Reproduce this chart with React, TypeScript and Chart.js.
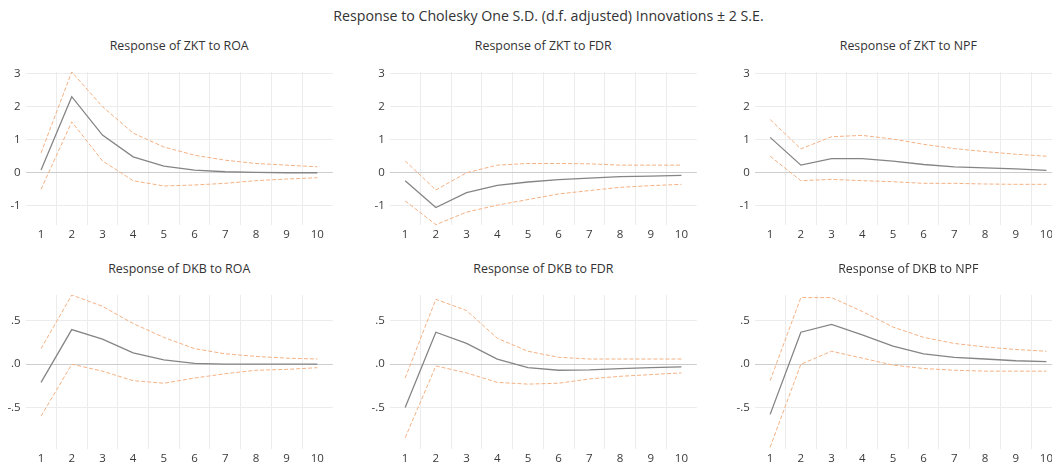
import React, { useEffect, useRef } from 'react';
import { Chart, registerables } from 'chart.js';

Chart.register(...registerables);

const periods = ['1', '2', '3', '4', '5', '6', '7', '8', '9', '10'];

const zktRoaMid = [0.08, 2.3, 1.14, 0.48, 0.2, 0.08, 0.03, 0.01, 0.0, 0.0];
const zktRoaUp = [0.6, 3.05, 2.0, 1.2, 0.78, 0.53, 0.38, 0.28, 0.23, 0.18];
const zktRoaLo = [-0.5, 1.54, 0.36, -0.24, -0.4, -0.37, -0.32, -0.24, -0.19, -0.15];

const zktFdrMid = [-0.24, -1.05, -0.6, -0.38, -0.28, -0.21, -0.16, -0.12, -0.1, -0.08];
const zktFdrUp = [0.36, -0.52, 0.0, 0.23, 0.28, 0.28, 0.27, 0.23, 0.23, 0.23];
const zktFdrLo = [-0.85, -1.57, -1.19, -0.98, -0.81, -0.64, -0.54, -0.44, -0.39, -0.35];

const zktNpfMid = [1.07, 0.23, 0.43, 0.43, 0.35, 0.25, 0.18, 0.15, 0.12, 0.07];
const zktNpfUp = [1.61, 0.72, 1.09, 1.13, 1.02, 0.86, 0.73, 0.64, 0.56, 0.5];
const zktNpfLo = [0.5, -0.24, -0.2, -0.24, -0.27, -0.32, -0.32, -0.34, -0.35, -0.35];

const dkbRoaMid = [-0.21, 0.4, 0.29, 0.13, 0.05, 0.01, 0.0, 0.0, 0.0, 0.0];
const dkbRoaUp = [0.18, 0.8, 0.67, 0.47, 0.31, 0.18, 0.12, 0.09, 0.07, 0.06];
const dkbRoaLo = [-0.6, 0.0, -0.08, -0.19, -0.22, -0.16, -0.11, -0.07, -0.06, -0.04];

const dkbFdrMid = [-0.5, 0.37, 0.24, 0.06, -0.04, -0.07, -0.065, -0.05, -0.04, -0.03];
const dkbFdrUp = [-0.16, 0.75, 0.62, 0.3, 0.15, 0.08, 0.06, 0.06, 0.06, 0.06];
const dkbFdrLo = [-0.85, -0.02, -0.1, -0.21, -0.23, -0.22, -0.17, -0.14, -0.12, -0.1];

const dkbNpfMid = [-0.58, 0.37, 0.46, 0.34, 0.21, 0.12, 0.08, 0.06, 0.04, 0.03];
const dkbNpfUp = [-0.19, 0.77, 0.77, 0.61, 0.43, 0.31, 0.24, 0.2, 0.17, 0.15];
const dkbNpfLo = [-0.96, 0.0, 0.15, 0.07, -0.01, -0.05, -0.07, -0.08, -0.08, -0.08];

const topTickValues = [-1, 0, 1, 2, 3];
const topTickLabels = ['-1', '0', '1', '2', '3'];
const bottomTickValues = [-0.5, 0, 0.5];
const bottomTickLabels = ['-.5', '.0', '.5'];

const mainTitle = 'Response to Cholesky One S.D. (d.f. adjusted) Innovations \u00b1 2 S.E.';
const panelTitles = [
  'Response of ZKT to ROA',
  'Response of ZKT to FDR',
  'Response of ZKT to NPF',
  'Response of DKB to ROA',
  'Response of DKB to FDR',
  'Response of DKB to NPF',
];

const FONT = "'Open Sans', 'DejaVu Sans', sans-serif";
const TEXT = '#3a3a3a';
const MID_COLOR = '#858585';
const BAND_COLOR = '#f4b183';

type Col = { left: number; width: number; areaLeft: number; areaRight: number };
type Row = { top: number; height: number; padTop: number; axisH: number; titleY: number; min: number; max: number; tv: number[]; tl: string[] };

const cols: Col[] = [
  { left: 0, width: 340, areaLeft: 25.7, areaRight: 332.7 },
  { left: 350, width: 355, areaLeft: 389.8, areaRight: 696.8 },
  { left: 700, width: 370, areaLeft: 754.8, areaRight: 1061.8 },
];

const rows: Row[] = [
  { top: 60, height: 185, padTop: 11.7, axisH: 20, titleY: 46.3, min: -1.58, max: 3.05, tv: topTickValues, tl: topTickLabels },
  { top: 283, height: 184, padTop: 12, axisH: 18, titleY: 269.3, min: -0.98, max: 0.8, tv: bottomTickValues, tl: bottomTickLabels },
];

const series = [
  [zktRoaMid, zktRoaUp, zktRoaLo],
  [zktFdrMid, zktFdrUp, zktFdrLo],
  [zktNpfMid, zktNpfUp, zktNpfLo],
  [dkbRoaMid, dkbRoaUp, dkbRoaLo],
  [dkbFdrMid, dkbFdrUp, dkbFdrLo],
  [dkbNpfMid, dkbNpfUp, dkbNpfLo],
];

function Panel({ index }: { index: number }) {
  const ref = useRef<HTMLCanvasElement | null>(null);
  const col = cols[index % 3];
  const row = rows[Math.floor(index / 3)];
  const [mid, up, lo] = series[index];

  useEffect(() => {
    if (!ref.current) return;
    const yW = col.areaLeft - col.left;
    const padR = col.left + col.width - col.areaRight;
    const chart = new Chart(ref.current, {
      type: 'line',
      data: {
        labels: periods,
        datasets: [
          { data: up, borderColor: BAND_COLOR, borderWidth: 1, borderDash: [4, 2], pointRadius: 0, fill: false, tension: 0 },
          { data: lo, borderColor: BAND_COLOR, borderWidth: 1, borderDash: [4, 2], pointRadius: 0, fill: false, tension: 0 },
          { data: mid, borderColor: MID_COLOR, borderWidth: 1.3, pointRadius: 0, fill: false, tension: 0 },
        ],
      },
      options: {
        animation: false,
        responsive: false,
        maintainAspectRatio: false,
        events: [],
        layout: { padding: { top: row.padTop, right: padR, left: 0, bottom: 0 } },
        plugins: { legend: { display: false }, title: { display: false }, tooltip: { enabled: false } },
        scales: {
          x: {
            type: 'category',
            offset: true,
            border: { display: false },
            grid: {
              offset: true,
              drawTicks: false,
              color: (ctx: any) => (ctx.type !== 'tick' || ctx.index === 0 ? 'rgba(0,0,0,0)' : '#ececec'),
              lineWidth: 1,
            },
            ticks: { color: TEXT, font: { family: FONT, size: 11.5 }, padding: 3, maxRotation: 0, autoSkip: false },
            afterFit: (s: any) => { s.height = row.axisH; },
          },
          y: {
            type: 'linear',
            min: row.min,
            max: row.max,
            border: { display: false },
            grid: {
              drawTicks: false,
              color: (ctx: any) => (ctx.tick && ctx.tick.value === 0 ? '#cdcdcd' : '#ececec'),
              lineWidth: 1,
            },
            afterBuildTicks: (s: any) => { s.ticks = row.tv.map((v) => ({ value: v })); },
            ticks: {
              color: TEXT,
              font: { family: FONT, size: 11.5 },
              padding: 5,
              callback: (v: any) => {
                const i = row.tv.indexOf(Number(v));
                return i >= 0 ? row.tl[i] : '';
              },
            },
            afterFit: (s: any) => { s.width = yW; },
          },
        },
      },
    });
    return () => chart.destroy();
  }, [index]);

  const center = (col.areaLeft + col.areaRight) / 2;
  return (
    <>
      <div
        style={{
          position: 'absolute',
          left: center - 150,
          width: 300,
          top: row.titleY - 9,
          height: 18,
          lineHeight: '18px',
          textAlign: 'center',
          fontFamily: FONT,
          fontSize: 12.4,
          color: '#333',
          whiteSpace: 'nowrap',
        }}
      >
        {panelTitles[index]}
      </div>
      <canvas
        ref={ref}
        width={col.width}
        height={row.height}
        style={{ position: 'absolute', left: col.left, top: row.top, width: col.width, height: row.height }}
      />
    </>
  );
}

export default function App() {
  return (
    <div style={{ position: 'absolute', left: 0, top: 0, width: 1052, height: 467, overflow: 'hidden', background: '#fff' }}>
      <div
        style={{
          position: 'absolute',
          left: 548.5 - 300,
          width: 600,
          top: 6.7,
          height: 18,
          lineHeight: '18px',
          textAlign: 'center',
          fontFamily: FONT,
          fontSize: 14.2,
          color: '#333',
          whiteSpace: 'nowrap',
        }}
      >
        {mainTitle}
      </div>
      {[0, 1, 2, 3, 4, 5].map((i) => (
        <Panel key={i} index={i} />
      ))}
    </div>
  );
}
